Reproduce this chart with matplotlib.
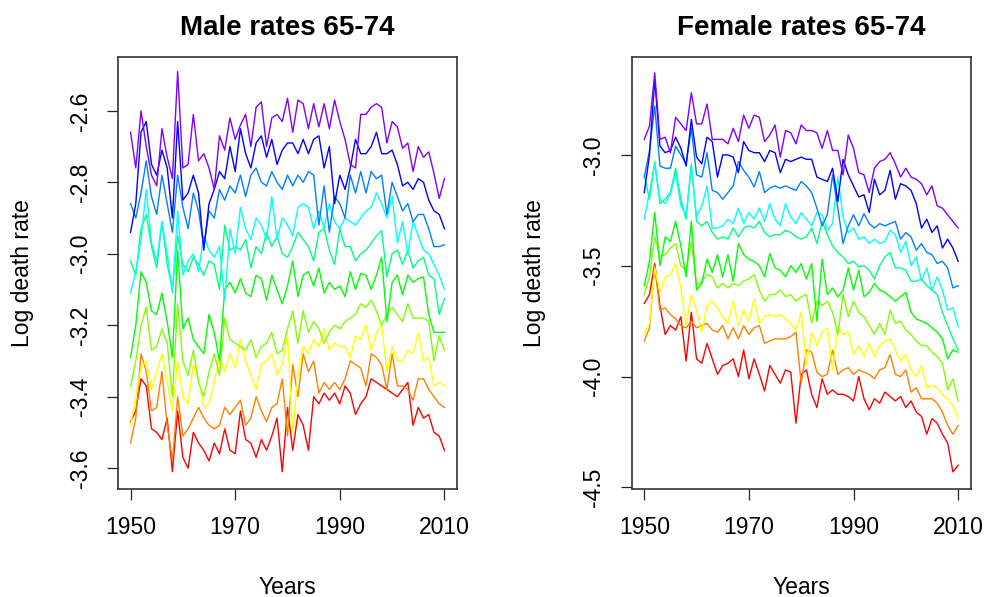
import colorsys
import numpy as np
import matplotlib
matplotlib.use("Agg")
from matplotlib import pyplot as plt

plt.rcParams['font.family'] = ['Liberation Sans', 'DejaVu Sans']

years = np.arange(1950, 2011)
ages = [65, 66, 67, 68, 69, 70, 71, 72, 73, 74]

# ---- male log death rates, ages 65..74 ----
male_65 = [-3.47, -3.44, -3.35, -3.37, -3.49, -3.50, -3.52, -3.46, -3.61, -3.44,
           -3.57, -3.60, -3.50, -3.53, -3.55, -3.58, -3.53, -3.56, -3.49, -3.55,
           -3.56, -3.44, -3.52, -3.53, -3.57, -3.52, -3.55, -3.51, -3.46, -3.61,
           -3.43, -3.55, -3.45, -3.48, -3.55, -3.40, -3.42, -3.39, -3.41, -3.39,
           -3.42, -3.37, -3.39, -3.45, -3.42, -3.40, -3.35, -3.36, -3.37, -3.38,
           -3.39, -3.40, -3.38, -3.36, -3.48, -3.43, -3.46, -3.45, -3.50, -3.51,
           -3.55]
male_66 = [-3.53, -3.46, -3.28, -3.33, -3.44, -3.43, -3.33, -3.48, -3.58, -3.40,
           -3.51, -3.49, -3.46, -3.43, -3.46, -3.48, -3.49, -3.48, -3.43, -3.45,
           -3.43, -3.41, -3.48, -3.46, -3.40, -3.44, -3.47, -3.43, -3.42, -3.35,
           -3.51, -3.31, -3.40, -3.28, -3.33, -3.30, -3.39, -3.36, -3.38, -3.36,
           -3.38, -3.35, -3.30, -3.31, -3.32, -3.37, -3.28, -3.29, -3.31, -3.38,
           -3.28, -3.37, -3.37, -3.38, -3.41, -3.35, -3.35, -3.38, -3.40, -3.42,
           -3.43]
male_67 = [-3.48, -3.40, -3.32, -3.30, -3.38, -3.33, -3.28, -3.36, -3.44, -3.30,
           -3.40, -3.42, -3.31, -3.35, -3.43, -3.42, -3.36, -3.29, -3.33, -3.28,
           -3.32, -3.24, -3.30, -3.34, -3.38, -3.31, -3.30, -3.28, -3.34, -3.31,
           -3.23, -3.50, -3.34, -3.26, -3.28, -3.24, -3.26, -3.21, -3.27, -3.25,
           -3.26, -3.26, -3.29, -3.23, -3.24, -3.20, -3.27, -3.22, -3.20, -3.33,
           -3.26, -3.30, -3.30, -3.27, -3.28, -3.22, -3.30, -3.29, -3.37, -3.36,
           -3.37]
male_68 = [-3.37, -3.30, -3.20, -3.15, -3.27, -3.26, -3.21, -3.25, -3.40, -3.14,
           -3.30, -3.34, -3.27, -3.36, -3.40, -3.33, -3.28, -3.34, -3.18, -3.24,
           -3.25, -3.26, -3.27, -3.24, -3.29, -3.26, -3.25, -3.22, -3.28, -3.27,
           -3.21, -3.16, -3.25, -3.16, -3.22, -3.19, -3.21, -3.25, -3.22, -3.20,
           -3.21, -3.19, -3.18, -3.17, -3.14, -3.15, -3.13, -3.16, -3.20, -3.17,
           -3.15, -3.17, -3.19, -3.14, -3.18, -3.18, -3.18, -3.19, -3.30, -3.23,
           -3.27]
male_69 = [-3.29, -3.20, -3.05, -3.08, -3.16, -3.17, -3.11, -3.19, -3.29, -2.99,
           -3.21, -3.18, -3.24, -3.26, -3.28, -3.17, -3.22, -3.30, -3.10, -3.08,
           -3.11, -3.07, -3.11, -3.12, -3.06, -3.07, -3.13, -3.06, -3.10, -3.14,
           -3.09, -3.02, -3.12, -3.06, -3.05, -3.09, -3.04, -3.11, -3.08, -3.10,
           -3.09, -3.12, -3.05, -3.10, -3.055, -3.06, -3.10, -3.06, -3.01, -3.19,
           -3.08, -3.06, -3.115, -3.06, -3.08, -3.07, -3.065, -3.17, -3.22, -3.22,
           -3.22]
male_70 = [-3.02, -3.06, -2.93, -2.89, -2.98, -3.04, -2.91, -3.03, -3.10, -2.95,
           -3.03, -3.05, -3.01, -3.03, -3.06, -3.02, -3.03, -3.10, -2.92, -2.99,
           -2.98, -2.99, -2.96, -3.04, -2.98, -3.00, -2.94, -2.98, -2.95, -3.00,
           -3.01, -2.98, -2.94, -2.96, -2.98, -3.02, -2.94, -2.93, -2.99, -3.03,
           -2.93, -2.98, -2.98, -3.02, -3.00, -2.99, -2.97, -2.95, -2.935, -3.065,
           -3.00, -2.99, -3.03, -2.99, -3.04, -3.02, -3.01, -3.06, -3.07, -3.17,
           -3.125]
male_71 = [-3.11, -3.05, -2.96, -2.82, -2.97, -3.02, -2.91, -3.00, -3.11, -2.88,
           -3.06, -3.02, -3.00, -3.05, -2.95, -2.99, -3.01, -2.98, -3.13, -2.93,
           -3.00, -2.87, -2.93, -2.96, -2.90, -2.92, -2.96, -2.84, -2.96, -2.90,
           -2.92, -2.95, -2.87, -2.86, -2.87, -2.93, -2.88, -2.93, -2.86, -2.91,
           -2.93, -2.90, -2.91, -2.92, -2.90, -2.88, -2.87, -2.83, -2.86, -2.90,
           -2.84, -2.97, -2.91, -3.00, -2.91, -2.95, -2.99, -3.00, -3.03, -3.06,
           -3.10]
male_72 = [-2.86, -2.90, -2.83, -2.74, -2.84, -2.89, -2.78, -2.86, -2.94, -2.78,
           -2.87, -2.93, -2.83, -2.88, -2.98, -2.88, -2.90, -2.82, -2.85, -2.81,
           -2.83, -2.78, -2.84, -2.78, -2.76, -2.80, -2.81, -2.77, -2.80, -2.82,
           -2.78, -2.81, -2.78, -2.80, -2.77, -2.78, -2.92, -2.81, -2.94, -2.84,
           -2.86, -2.90, -2.78, -2.83, -2.77, -2.83, -2.77, -2.79, -2.78, -2.89,
           -2.80, -2.84, -2.88, -2.86, -2.91, -2.89, -2.89, -2.93, -2.98, -2.98,
           -2.975]
male_73 = [-2.94, -2.86, -2.66, -2.63, -2.75, -2.78, -2.71, -2.76, -2.90, -2.63,
           -2.85, -2.83, -2.78, -2.83, -2.99, -2.86, -2.82, -2.77, -2.79, -2.70,
           -2.77, -2.65, -2.72, -2.76, -2.69, -2.67, -2.73, -2.68, -2.75, -2.71,
           -2.69, -2.69, -2.72, -2.68, -2.72, -2.68, -2.67, -2.76, -2.70, -2.86,
           -2.78, -2.82, -2.76, -2.68, -2.72, -2.72, -2.70, -2.66, -2.72, -2.72,
           -2.71, -2.75, -2.81, -2.80, -2.82, -2.79, -2.80, -2.85, -2.88, -2.89,
           -2.93]
male_74 = [-2.66, -2.76, -2.60, -2.70, -2.78, -2.81, -2.65, -2.73, -2.79, -2.49,
           -2.76, -2.75, -2.61, -2.74, -2.72, -2.76, -2.82, -2.67, -2.71, -2.62,
           -2.68, -2.64, -2.61, -2.70, -2.59, -2.575, -2.70, -2.62, -2.61, -2.63,
           -2.565, -2.66, -2.57, -2.58, -2.65, -2.58, -2.645, -2.58, -2.65, -2.57,
           -2.63, -2.68, -2.75, -2.76, -2.61, -2.61, -2.59, -2.58, -2.59, -2.69,
           -2.63, -2.645, -2.705, -2.69, -2.77, -2.70, -2.73, -2.715, -2.775, -2.845,
           -2.79]

# ---- female log death rates, ages 65..74 ----
female_65 = [-3.67, -3.63, -3.49, -3.68, -3.81, -3.77, -3.79, -3.73, -3.93, -3.71,
             -3.92, -3.94, -3.85, -3.92, -3.99, -3.95, -3.94, -3.92, -4.00, -3.88,
             -4.01, -3.92, -3.99, -4.065, -3.95, -3.99, -4.03, -3.97, -3.98, -4.21,
             -3.99, -3.97, -4.08, -4.14, -4.01, -4.08, -4.06, -4.08, -4.08, -4.09,
             -4.11, -4.00, -4.10, -4.15, -4.10, -4.12, -4.07, -4.09, -4.11, -4.09,
             -4.14, -4.11, -4.16, -4.18, -4.26, -4.19, -4.21, -4.26, -4.30, -4.43,
             -4.40]
female_66 = [-3.84, -3.78, -3.50, -3.70, -3.69, -3.72, -3.74, -3.77, -3.78, -3.75,
             -3.78, -3.77, -3.76, -3.79, -3.80, -3.77, -3.83, -3.78, -3.83, -3.77,
             -3.81, -3.78, -3.77, -3.85, -3.84, -3.83, -3.83, -3.83, -3.82, -3.80,
             -4.03, -3.88, -3.89, -3.98, -4.00, -3.99, -3.88, -3.99, -3.97, -3.96,
             -3.99, -3.97, -3.98, -3.99, -4.01, -3.97, -3.96, -3.90, -3.99, -4.00,
             -3.97, -4.07, -4.05, -4.10, -4.10, -4.10, -4.12, -4.16, -4.22, -4.26,
             -4.22]
female_67 = [-3.81, -3.76, -3.51, -3.62, -3.55, -3.54, -3.49, -3.60, -3.77, -3.63,
             -3.70, -3.80, -3.68, -3.66, -3.69, -3.73, -3.76, -3.66, -3.77, -3.70,
             -3.75, -3.65, -3.76, -3.73, -3.72, -3.73, -3.72, -3.74, -3.76, -3.79,
             -3.71, -3.95, -3.80, -3.86, -3.80, -3.78, -3.97, -3.78, -3.81, -3.80,
             -3.90, -3.86, -3.91, -3.85, -3.91, -3.86, -3.84, -3.83, -3.88, -3.93,
             -3.90, -3.97, -4.00, -3.95, -4.05, -4.04, -4.05, -4.08, -4.10, -4.13,
             -4.19]
female_68 = [-3.63, -3.55, -3.37, -3.46, -3.45, -3.42, -3.40, -3.50, -3.52, -3.39,
             -3.59, -3.57, -3.54, -3.55, -3.60, -3.58, -3.60, -3.58, -3.59, -3.57,
             -3.56, -3.54, -3.61, -3.66, -3.63, -3.63, -3.61, -3.64, -3.63, -3.66,
             -3.64, -3.63, -3.76, -3.66, -3.68, -3.66, -3.71, -3.81, -3.63, -3.73,
             -3.66, -3.71, -3.73, -3.77, -3.81, -3.76, -3.81, -3.70, -3.76, -3.75,
             -3.79, -3.81, -3.84, -3.86, -3.86, -3.89, -3.91, -3.94, -4.06, -4.01,
             -4.11]
female_69 = [-3.59, -3.48, -3.26, -3.50, -3.37, -3.39, -3.30, -3.41, -3.55, -3.30,
             -3.61, -3.58, -3.47, -3.53, -3.45, -3.55, -3.45, -3.57, -3.40, -3.45,
             -3.47, -3.48, -3.50, -3.55, -3.445, -3.51, -3.52, -3.55, -3.50, -3.53,
             -3.49, -3.56, -3.49, -3.75, -3.47, -3.63, -3.60, -3.64, -3.61, -3.51,
             -3.61, -3.52, -3.64, -3.62, -3.58, -3.61, -3.62, -3.64, -3.66, -3.64,
             -3.62, -3.71, -3.74, -3.75, -3.76, -3.78, -3.80, -3.83, -3.92, -3.88,
             -3.89]
female_70 = [-3.09, -3.20, -3.03, -3.22, -3.20, -3.17, -3.06, -3.20, -3.29, -3.04,
             -3.30, -3.32, -3.30, -3.35, -3.38, -3.37, -3.38, -3.33, -3.37, -3.33,
             -3.32, -3.33, -3.30, -3.35, -3.37, -3.36, -3.36, -3.34, -3.35, -3.37,
             -3.38, -3.37, -3.33, -3.40, -3.30, -3.36, -3.41, -3.44, -3.46, -3.49,
             -3.48, -3.505, -3.50, -3.52, -3.56, -3.50, -3.46, -3.44, -3.51, -3.51,
             -3.52, -3.57, -3.57, -3.56, -3.59, -3.61, -3.63, -3.71, -3.77, -3.83,
             -3.88]
female_71 = [-3.29, -3.17, -3.04, -3.20, -3.22, -3.18, -3.08, -3.23, -3.27, -3.05,
             -3.28, -3.23, -3.14, -3.33, -3.33, -3.32, -3.29, -3.31, -3.24, -3.31,
             -3.26, -3.29, -3.24, -3.30, -3.22, -3.29, -3.32, -3.22, -3.28, -3.31,
             -3.26, -3.29, -3.32, -3.26, -3.27, -3.34, -3.31, -3.10, -3.28, -3.35,
             -3.33, -3.38, -3.37, -3.40, -3.38, -3.40, -3.39, -3.34, -3.36, -3.44,
             -3.39, -3.50, -3.46, -3.57, -3.51, -3.61, -3.55, -3.61, -3.70, -3.69,
             -3.775]
female_72 = [-3.10, -2.98, -2.78, -3.05, -3.06, -3.06, -2.96, -3.00, -3.04, -2.88,
             -3.09, -3.10, -2.99, -3.16, -3.17, -3.20, -3.17, -3.14, -3.03, -3.07,
             -3.10, -3.145, -3.075, -3.17, -3.15, -3.14, -3.15, -3.14, -3.15, -3.16,
             -3.12, -3.14, -3.17, -3.24, -3.32, -3.27, -3.09, -3.24, -3.40, -3.32,
             -3.27, -3.32, -3.265, -3.31, -3.33, -3.31, -3.32, -3.31, -3.30, -3.38,
             -3.35, -3.37, -3.43, -3.40, -3.44, -3.45, -3.49, -3.48, -3.51, -3.60,
             -3.59]
female_73 = [-3.17, -3.00, -2.66, -2.96, -2.99, -2.98, -2.92, -2.97, -3.05, -2.84,
             -3.01, -3.04, -2.92, -2.94, -3.10, -3.00, -3.00, -3.01, -3.08, -2.94,
             -2.98, -2.99, -2.99, -3.03, -2.98, -2.99, -3.08, -3.02, -3.03, -3.02,
             -3.01, -3.02, -3.02, -3.10, -3.11, -3.12, -3.06, -3.21, -3.02, -3.09,
             -3.14, -3.19, -3.18, -3.26, -3.11, -3.18, -3.16, -3.07, -3.20, -3.13,
             -3.14, -3.16, -3.22, -3.33, -3.29, -3.35, -3.32, -3.42, -3.38, -3.42,
             -3.48]
female_74 = [-2.93, -2.87, -2.63, -2.93, -2.92, -2.99, -2.83, -2.86, -2.89, -2.72,
             -2.86, -2.86, -2.77, -2.93, -2.93, -2.93, -2.95, -2.88, -2.94, -2.82,
             -2.88, -2.82, -2.83, -2.94, -2.91, -2.865, -3.01, -2.89, -2.90, -2.95,
             -2.865, -2.89, -2.89, -2.90, -2.97, -2.89, -2.98, -2.98, -3.09, -2.91,
             -2.97, -3.08, -3.09, -3.17, -3.06, -3.03, -3.02, -2.99, -3.04, -3.10,
             -3.06, -3.10, -3.11, -3.13, -3.18, -3.14, -3.23, -3.24, -3.27, -3.30,
             -3.33]

male = [male_65, male_66, male_67, male_68, male_69,
        male_70, male_71, male_72, male_73, male_74]
female = [female_65, female_66, female_67, female_68, female_69,
          female_70, female_71, female_72, female_73, female_74]

# R rainbow(12), first 10 colours
colours = [colorsys.hsv_to_rgb(k / 12., 1, 1) for k in range(len(ages))]

W, H = 986, 597
fig = plt.figure(figsize=(W / 100., H / 100.), dpi=100)


def panel(left, right, series, title, yticks, ylim, ylab_x):
    top, bottom = 56.5, 488.5
    ax = fig.add_axes([left / W, 1 - bottom / H, (right - left) / W, (bottom - top) / H])
    for s, c in zip(series, colours):
        ax.plot(years, s, color=c, lw=1.0)
    ax.set_xlim(1947.6, 2012.4)
    ax.set_ylim(*ylim)
    ax.set_xticks([1950, 1970, 1990, 2010])
    ax.set_yticks(yticks)
    ax.set_yticklabels(["%.1f" % v for v in yticks], rotation=90, va="center")
    ax.tick_params(direction="out", length=8, width=0.9, labelsize=16.5,
                   colors="#222222", labelcolor="black")
    ax.tick_params(axis="x", pad=12)
    ax.tick_params(axis="y", pad=11)
    for sp in ax.spines.values():
        sp.set_linewidth(1.2)
        sp.set_color("#333333")
    fig.text((left + right) / 2 / W, 1 - 28 / H, title, ha="center", va="center",
             fontsize=20, fontweight="bold")
    fig.text((left + right) / 2 / W, 1 - 587 / H, "Years", ha="center", va="center",
             fontsize=16.5)
    fig.text(ylab_x / W, 1 - 273 / H, "Log death rate", ha="center", va="center",
             rotation=90, fontsize=16.5)
    return ax


panel(118, 457, male, "Male rates 65-74", [-3.6, -3.4, -3.2, -3.0, -2.8, -2.6],
      (-3.657, -2.448), 23)
panel(631.7, 970.7, female, "Female rates 65-74", [-4.5, -4.0, -3.5, -3.0],
      (-4.505, -2.556), 535)

fig.savefig("out.png", dpi=100)
